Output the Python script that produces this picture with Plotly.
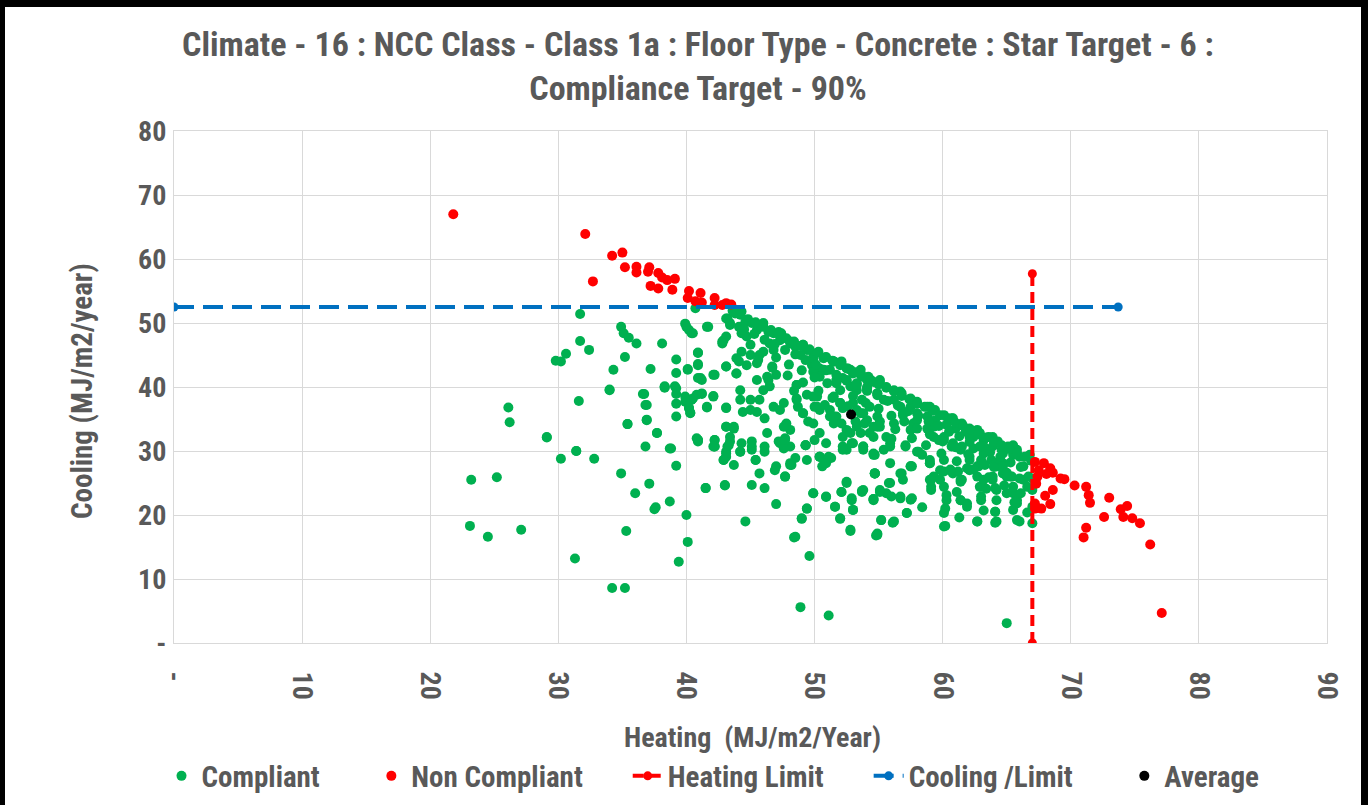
import plotly.graph_objects as go

# ---------------- data ----------------
# Compliant points (heating, cooling)
compliant_scatter_left = [
    (26.1, 36.8), (26.2, 34.5), (29.1, 32.1), (31.6, 37.8), (34.0, 39.5), (30.2, 28.8), (31.4, 30.0),
    (32.8, 28.8), (23.2, 25.5), (25.2, 25.9), (23.1, 18.3), (24.5, 16.6), (27.1, 17.7), (31.3, 13.2),
    (34.2, 8.6), (35.2, 8.6), (35.3, 17.5), (34.9, 26.5), (36.0, 23.4), (37.1, 24.9), (37.5, 20.9),
    (37.6, 21.2), (38.7, 22.1), (40.0, 20.0), (40.1, 15.8), (39.4, 12.7), (35.4, 34.2), (36.9, 34.8),
    (36.8, 37.2), (36.6, 38.9), (38.3, 40.0), (39.2, 39.8), (39.2, 38.9), (39.2, 37.4), (39.2, 35.4),
    (37.7, 32.8), (36.8, 30.7), (38.7, 30.4), (39.2, 27.7), (39.9, 37.7), (40.2, 36.7), (40.3, 35.9),
    (40.5, 38.2), (41.2, 38.9), (41.6, 36.8), (42.1, 38.6), (40.9, 31.7), (42.2, 31.7), (42.2, 30.7),
    (41.5, 24.2), (43.0, 24.6), (43.1, 33.8), (43.7, 33.5), (43.4, 31.5), (43.1, 29.9), (42.9, 28.6),
    (43.1, 36.8), (41.2, 41.1),
    (31.7, 51.4), (34.9, 49.4), (35.1, 48.4), (35.5, 47.7), (36.1, 46.8), (38.1, 46.8), (31.7, 47.2),
    (32.4, 45.8), (30.6, 45.2), (29.8, 44.1), (30.2, 44.0), (35.2, 44.7), (34.3, 42.7), (37.2, 42.8),
    (39.2, 44.3), (39.2, 42.2), (40.1, 42.8), (38.3, 39.9), (36.7, 38.9), (36.9, 37.2), (36.9, 34.9),
    (35.4, 34.2), (37.7, 32.8), (38.8, 30.4), (29.1, 32.2), (31.4, 30.0), (39.9, 49.9), (40.2, 48.9),
    (40.5, 48.4), (40.7, 52.3), (40.9, 45.4), (40.9, 43.6), (40.9, 41.4), (40.8, 38.8), (40.0, 38.0),
    (40.4, 38.0), (40.3, 36.0), (40.8, 32.0), (41.6, 49.4), (42.2, 41.9), (43.1, 43.2), (42.8, 47.1),
    (43.1, 47.9), (43.2, 50.7), (43.4, 49.7), (43.8, 51.8), (43.9, 42.1), (43.9, 44.5), (39.1, 40.1),
    (38.3, 40.1), (34.0, 39.6),
]
compliant_mid = [
    (40.0, 49.4), (40.4, 48.4), (41.7, 49.4), (43.1, 50.7), (43.4, 50.0), (43.8, 51.5), (44.3, 51.8),
    (44.1, 49.4), (44.6, 50.2), (45.1, 50.0), (45.5, 48.9), (46.0, 50.0), (46.4, 48.6), (44.3, 48.4),
    (44.7, 47.9), (42.9, 47.3), (42.8, 46.8), (46.8, 48.4), (47.2, 48.6), (47.3, 47.3), (46.5, 46.8),
    (46.8, 45.8), (48.1, 47.1), (48.5, 46.3), (49.1, 46.6), (49.4, 45.8), (49.9, 44.7), (50.3, 45.5),
    (50.9, 44.7), (51.5, 44.0), (52.1, 44.0), (49.8, 43.4), (50.4, 42.9), (51.2, 42.7), (52.5, 42.9),
    (53.0, 42.1), (53.6, 41.9), (54.1, 41.1), (54.6, 40.8), (52.2, 41.4), (51.7, 40.6), (52.8, 40.1),
    (53.3, 39.5), (54.1, 39.5), (54.9, 39.0), (53.7, 38.0), (53.0, 37.5), (52.0, 37.5), (51.5, 38.5),
    (52.2, 36.7), (51.7, 35.4), (53.6, 35.9), (54.1, 34.8), (54.6, 33.8), (53.3, 33.8), (52.5, 33.3),
    (51.5, 34.3), (51.2, 35.4), (52.2, 32.2), (53.0, 31.2), (53.8, 30.7), (54.6, 29.6), (52.5, 30.2),
    (50.4, 29.1), (50.9, 28.6), (50.9, 31.2), (50.4, 32.8), (49.9, 34.3), (49.5, 34.6), (49.1, 35.9),
    (48.7, 36.9), (48.6, 38.2), (49.4, 38.8), (50.2, 38.5), (50.0, 36.9), (50.4, 36.4), (48.6, 40.3),
    (47.6, 37.5), (47.3, 36.4), (46.8, 36.9), (47.8, 34.3), (48.1, 33.3), (47.7, 32.0), (47.3, 31.2),
    (48.1, 30.7), (49.3, 30.9), (48.5, 28.9), (48.1, 28.1), (47.0, 27.6), (46.3, 32.8), (46.1, 35.1),
    (45.5, 36.1), (45.0, 36.4), (44.4, 36.1), (46.5, 40.1), (46.0, 39.5), (45.7, 38.0), (45.0, 38.0),
    (44.2, 39.5), (44.2, 38.0), (45.5, 41.1), (46.4, 41.1), (47.0, 41.9), (46.7, 43.2), (45.5, 43.7),
    (44.7, 43.4), (43.9, 42.1), (44.1, 44.0), (44.3, 45.5), (45.0, 45.0), (45.7, 45.0), (43.1, 43.2),
    (42.1, 41.9), (41.1, 41.4), (40.1, 42.7), (40.9, 43.4), (40.9, 45.3), (39.9, 38.5), (40.4, 38.0),
    (40.2, 36.7), (41.2, 39.0), (42.1, 38.5), (41.6, 36.9), (43.1, 36.7), (40.9, 31.7), (42.2, 31.7),
    (42.2, 30.7), (43.1, 33.8), (43.7, 33.8), (43.4, 32.2), (43.2, 30.7), (43.1, 29.1), (44.3, 31.2),
    (44.2, 29.9), (45.1, 31.5), (45.1, 30.2), (46.1, 30.7), (45.4, 28.6), (43.7, 27.8), (49.4, 28.6),
    (50.6, 27.6),
]
compliant_low = [
    (40.9, 31.5), (42.1, 30.7), (43.3, 30.9), (43.1, 29.6), (42.9, 28.6), (44.2, 29.9), (45.1, 30.7),
    (45.4, 28.6), (46.1, 29.9), (45.7, 26.5), (46.9, 27.0), (47.7, 26.0), (48.2, 27.8), (47.2, 31.5),
    (47.6, 30.4), (49.3, 30.9), (50.0, 31.7), (41.5, 24.2), (43.0, 24.7), (45.1, 24.7), (46.1, 24.2),
    (47.0, 21.7), (44.6, 19.0), (48.4, 16.5), (49.6, 13.6), (49.0, 19.4), (49.4, 21.0), (49.9, 23.4),
    (48.9, 5.6), (51.1, 4.3), (50.4, 29.1), (50.9, 28.1), (51.3, 28.9), (52.2, 30.2), (52.5, 25.0),
    (52.1, 23.6), (50.9, 22.8), (51.6, 21.3), (52.9, 22.6), (53.0, 20.8), (52.0, 19.4), (52.8, 17.5),
    (53.7, 23.8), (54.7, 26.5), (54.6, 22.5), (54.9, 16.9),
]
compliant_band = [
    (47.4, 48.4), (48.1, 46.8), (49.1, 46.6), (49.6, 45.8), (48.9, 45.0), (49.9, 44.5), (50.7, 44.5),
    (51.5, 44.0), (52.1, 43.7), (52.8, 42.7), (53.6, 42.1), (54.2, 41.6), (49.9, 42.4), (50.7, 42.7),
    (50.4, 41.6), (51.7, 41.1), (52.5, 41.1), (53.3, 40.6), (54.1, 39.8), (55.1, 40.8), (55.6, 40.0),
    (56.2, 39.5), (56.8, 39.0), (57.5, 38.2), (58.0, 37.7), (58.8, 36.9), (59.4, 36.4), (60.1, 35.6),
    (60.7, 35.1), (61.5, 34.3), (62.1, 33.5), (62.9, 32.8), (63.6, 32.2), (64.3, 31.5), (65.1, 30.7),
    (65.8, 30.2), (54.9, 39.0), (55.4, 38.0), (56.2, 38.0), (56.7, 36.9), (57.5, 36.9), (58.0, 35.9),
    (58.8, 35.4), (59.4, 34.8), (60.3, 34.1), (61.0, 33.5), (61.8, 33.0), (62.4, 32.2), (63.2, 31.7),
    (63.9, 30.7), (64.6, 30.2), (65.5, 29.4), (56.9, 35.6), (57.7, 34.3), (58.8, 33.5), (59.3, 32.2),
    (60.1, 31.7), (60.8, 31.2), (61.5, 30.7), (62.4, 30.4), (63.2, 29.6), (63.8, 28.6), (64.7, 28.1),
    (48.6, 40.3), (48.6, 38.0), (49.1, 35.9), (50.2, 36.9), (49.9, 38.5), (51.2, 36.4), (51.5, 35.4),
    (52.0, 37.5), (52.1, 34.3), (53.3, 36.4), (53.9, 34.3), (54.9, 35.4), (55.1, 33.8), (54.3, 32.8),
    (55.6, 32.2), (53.6, 32.8), (52.8, 32.8), (52.2, 30.7), (52.9, 31.2), (53.8, 30.2), (54.6, 29.4),
    (55.4, 30.2), (55.9, 31.2), (57.1, 30.9), (58.0, 29.9), (57.5, 27.6), (56.8, 26.5), (54.7, 26.5),
    (55.9, 25.0), (55.6, 23.4), (55.1, 23.6), (54.6, 22.3), (57.6, 22.6), (56.7, 22.9), (57.2, 20.3),
    (55.2, 19.2), (56.2, 19.0), (54.9, 17.1), (52.5, 25.2), (52.1, 23.6), (52.9, 22.3), (53.7, 23.6),
    (53.0, 20.8), (52.0, 19.5), (52.8, 17.7), (49.9, 23.4), (50.9, 22.9), (51.6, 21.3), (50.4, 29.1),
    (51.1, 29.1), (50.8, 28.1), (49.3, 30.9), (48.1, 27.8), (47.7, 26.0), (49.4, 21.0), (49.0, 19.5),
    (48.5, 16.6), (47.6, 33.8), (47.7, 31.7),
    (59.0, 28.6), (59.8, 27.0), (59.3, 26.0), (60.1, 24.4), (60.3, 22.3), (60.1, 20.3), (60.1, 18.2),
    (59.1, 24.4), (60.8, 26.5), (61.5, 25.5), (61.1, 23.6), (61.9, 21.8), (61.4, 22.3), (62.1, 28.6),
    (62.8, 27.6), (62.9, 24.4), (63.0, 22.3), (62.7, 19.0), (64.2, 27.6), (63.9, 25.5), (64.2, 23.9),
    (64.1, 20.5), (64.2, 19.0), (65.3, 26.0), (65.5, 23.4), (65.8, 21.8), (65.8, 19.2),
]
compliant_right = [
    (67.0, 25.7), (67.0, 23.9), (67.0, 21.3), (67.0, 18.7), (66.3, 25.5), (65.8, 22.3), (65.5, 20.8),
    (66.0, 19.0), (65.0, 23.4), (64.2, 22.3), (64.1, 20.5), (64.1, 18.8), (62.7, 19.0), (63.0, 22.9),
    (64.1, 24.2), (65.0, 3.1), (60.2, 18.3), (60.2, 21.0), (60.3, 23.1), (61.4, 22.3), (61.9, 21.3),
    (59.1, 23.9), (59.1, 25.5), (57.2, 20.3), (56.1, 18.8), (55.2, 19.2), (54.8, 16.8), (54.6, 22.5),
    (55.1, 23.9), (56.0, 22.9), (56.7, 22.6), (57.5, 22.4), (54.7, 26.5), (55.8, 25.0), (56.7, 26.5),
    (57.5, 27.6), (59.0, 28.1), (60.1, 26.8), (59.8, 25.5), (61.2, 26.8), (61.4, 25.2), (61.9, 27.3),
    (62.7, 26.0), (63.0, 24.4), (63.3, 27.8), (64.2, 27.6), (63.9, 26.0), (64.7, 26.5), (65.4, 26.0),
    (65.5, 24.4), (53.8, 23.9),
    (53.6, 42.7), (55.1, 41.1), (56.7, 39.3), (59.0, 36.9), (60.8, 35.1), (62.7, 33.3), (63.9, 32.2),
    (65.5, 30.9), (66.8, 29.4), (54.1, 40.0), (54.3, 36.9), (54.9, 33.8), (54.6, 32.2), (53.8, 30.7),
    (54.7, 29.4), (54.7, 26.5), (55.9, 30.7), (56.2, 34.3), (56.9, 35.9), (57.5, 33.3), (58.0, 34.8),
    (57.1, 30.7), (58.1, 29.9), (57.6, 27.6), (59.0, 28.1), (59.7, 31.7), (60.1, 28.6), (60.7, 30.7),
    (61.4, 30.2), (62.1, 29.1), (62.1, 27.0), (62.7, 27.6), (64.2, 28.1), (65.0, 26.0), (64.7, 27.6),
    (63.2, 25.5), (61.4, 25.5), (60.6, 27.0), (59.0, 25.5), (56.9, 25.5), (55.9, 28.1), (59.3, 33.8),
    (60.1, 32.2), (62.1, 32.2), (63.2, 30.7), (64.7, 29.6), (66.0, 29.1), (66.3, 27.6), (66.7, 26.0),
    (66.6, 24.4),
]
compliant_edge = [
    (43.6, 51.9), (44.2, 51.3), (44.8, 50.6), (45.4, 50.1), (46.0, 49.4), (46.6, 48.9), (47.2, 48.3),
    (47.8, 47.6), (48.4, 47.1), (49.0, 46.4), (49.6, 45.9), (50.2, 45.3), (50.8, 44.6), (51.4, 44.1),
    (52.0, 43.4), (52.6, 42.9), (53.2, 42.3), (53.8, 41.6), (54.4, 41.1), (55.0, 40.4), (55.6, 39.9),
    (56.2, 39.3), (56.8, 38.6), (57.4, 38.1), (58.0, 37.4), (58.6, 36.9), (59.2, 36.3), (59.8, 35.6),
    (60.4, 35.1), (61.0, 34.4), (61.6, 33.9), (62.2, 33.3), (62.8, 32.6), (63.4, 32.1), (64.0, 31.4),
    (64.6, 30.9), (65.2, 30.3), (65.8, 29.6), (66.4, 29.1), (66.9, 28.5),
    (44.5, 49.0), (45.3, 48.3), (46.1, 47.4), (46.9, 46.7), (47.7, 45.8), (48.5, 45.1), (49.3, 44.2),
    (50.1, 43.5), (50.9, 42.6), (51.7, 41.9), (52.5, 41.0), (53.3, 40.3), (54.1, 39.4), (54.9, 38.7),
    (55.7, 37.8), (56.5, 37.1), (57.3, 36.2), (58.1, 35.5), (58.9, 34.6), (59.7, 33.9), (60.5, 33.0),
    (61.3, 32.3), (62.1, 31.4), (62.9, 30.7), (63.7, 29.8), (64.5, 29.1), (65.3, 28.2), (66.1, 27.5),
    (45.0, 46.6), (46.0, 45.5), (47.0, 44.6), (48.0, 43.5), (49.0, 42.6), (50.0, 41.5), (51.0, 40.6),
    (52.0, 39.5), (53.0, 38.6), (54.0, 37.5), (55.0, 36.6), (56.0, 35.5), (57.0, 34.6), (58.0, 33.5),
    (59.0, 32.6), (60.0, 31.5), (61.0, 30.6), (62.0, 29.5), (63.0, 28.6), (64.0, 27.5), (65.0, 26.6),
    (66.0, 25.7),
    (45.6, 44.2), (46.7, 43.0), (47.9, 41.8), (49.1, 40.7), (50.3, 39.4), (51.4, 38.3), (52.6, 37.0),
    (53.8, 35.9), (55.1, 34.6), (56.3, 33.4), (57.6, 32.0), (58.7, 30.9), (59.9, 29.6), (61.1, 28.4),
    (62.4, 27.1), (63.6, 25.9), (64.8, 24.6), (66.1, 23.4),
    (46.3, 41.6), (48.4, 39.4), (50.8, 37.2), (53.2, 34.6), (56.0, 31.9), (58.4, 29.4), (60.6, 27.1),
    (63.4, 24.1), (65.6, 22.0), (66.6, 20.4), (61.3, 19.6), (58.4, 21.2), (63.2, 20.7),
]

non_compliant = [
    (21.8, 67.0), (32.1, 63.9), (34.2, 60.5), (35.0, 61.0), (32.7, 56.5), (35.2, 58.7), (36.1, 58.8),
    (36.1, 57.9), (37.1, 58.7), (37.0, 58.0), (37.8, 57.8), (38.1, 57.1), (37.2, 55.8), (37.8, 55.4),
    (38.5, 56.7), (39.1, 56.9), (38.9, 55.2), (40.2, 55.0), (41.1, 54.7), (40.1, 53.9), (40.7, 53.4),
    (42.2, 53.9), (42.2, 52.8), (42.8, 52.8), (43.1, 53.1), (41.2, 53.2), (43.5, 52.9),
    (67.2, 28.3), (67.9, 28.1), (68.4, 27.3), (68.6, 26.6), (69.2, 25.7), (69.5, 25.6), (67.3, 24.9),
    (70.3, 24.6), (71.2, 24.4), (71.4, 23.1), (71.5, 21.9), (68.6, 23.9), (68.0, 23.0), (68.4, 21.7),
    (67.7, 21.0), (67.2, 21.0), (67.2, 21.8), (73.0, 22.7), (73.9, 20.9), (74.4, 21.4), (74.1, 19.7),
    (74.8, 19.5), (75.4, 18.7), (72.6, 19.7), (71.2, 18.0), (71.0, 16.5), (76.2, 15.4), (77.1, 4.7),
    (67.5, 27.0), (68.1, 26.4), (67.4, 26.0),
]

heating_limit_x = [67.0, 67.0]
heating_limit_y = [0.0, 57.7]
cooling_limit_x = [0.0, 73.7]
cooling_limit_y = [52.5, 52.5]
average_x = [52.85]
average_y = [35.7]

x_tickvals = [0, 10, 20, 30, 40, 50, 60, 70, 80, 90]
x_ticktext = ["-", "10", "20", "30", "40", "50", "60", "70", "80", "90"]
y_tickvals = [0, 10, 20, 30, 40, 50, 60, 70, 80]
y_ticktext = ["-", "10", "20", "30", "40", "50", "60", "70", "80"]

series_names = ["Compliant", "Non Compliant", "Heating Limit", "Cooling /Limit", "Average"]
title_lines = ["Climate - 16 : NCC Class - Class 1a : Floor Type - Concrete : Star Target - 6 :",
               "Compliance Target - 90%"]

# ---------------- figure ----------------
compliant = (compliant_scatter_left + compliant_mid + compliant_low + compliant_band
             + compliant_right + compliant_edge)

GREEN = "#00B050"
RED = "#FF0000"
BLUE = "#0070C0"
GRAY = "#595959"
FONT = "Liberation Sans Narrow, Roboto Condensed, Open Sans, sans-serif"

def lbl(s, pad):
    return "<b>" + s + "</b>" + "&nbsp;" * pad

fig = go.Figure()
fig.add_trace(go.Scatter(
    x=[p[0] for p in compliant], y=[p[1] for p in compliant], mode="markers",
    name=lbl(series_names[0], 7), marker=dict(color=GREEN, size=10, line=dict(width=0))))
fig.add_trace(go.Scatter(
    x=[p[0] for p in non_compliant], y=[p[1] for p in non_compliant], mode="markers",
    name=lbl(series_names[1], 6), marker=dict(color=RED, size=10, line=dict(width=0))))
fig.add_trace(go.Scatter(
    x=heating_limit_x, y=heating_limit_y, mode="lines+markers", name=lbl(series_names[2], 6),
    line=dict(color=RED, width=4, dash="11px,6px"), marker=dict(color=RED, size=9)))
fig.add_trace(go.Scatter(
    x=cooling_limit_x, y=cooling_limit_y, mode="lines+markers", name=lbl(series_names[3], 7),
    line=dict(color=BLUE, width=4, dash="20px,9px"), marker=dict(color=BLUE, size=9)))
fig.add_trace(go.Scatter(
    x=average_x, y=average_y, mode="markers", name=lbl(series_names[4], 0),
    marker=dict(color="black", size=10, line=dict(width=0))))

# plot area in page pixels
L, R, T, B = 174, 1327, 131, 643
W, H = R - L, B - T
def px_x(p):
    return (p - L) / W
def px_y(p):
    return (B - p) / H
frame_shapes = [
    dict(type="rect", xref="paper", yref="paper", x0=px_x(0), x1=px_x(5), y0=px_y(805), y1=px_y(0),
         fillcolor="black", line=dict(width=0), layer="above"),
    dict(type="rect", xref="paper", yref="paper", x0=px_x(0), x1=px_x(1368), y0=px_y(7), y1=px_y(0),
         fillcolor="black", line=dict(width=0), layer="above"),
    dict(type="rect", xref="paper", yref="paper", x0=px_x(1361), x1=px_x(1368), y0=px_y(805), y1=px_y(0),
         fillcolor="black", line=dict(width=0), layer="above"),
]

fig.update_layout(
    width=1368, height=805,
    margin=dict(l=L, r=1368 - R, t=T, b=805 - B, autoexpand=False),
    paper_bgcolor="white", plot_bgcolor="white",
    font=dict(family=FONT, color=GRAY),
    title=dict(text="<b>" + title_lines[0] + "</b><br><b>" + title_lines[1] + "</b>",
               x=698 / 1368, xanchor="center", y=1 - 56 / 805, yanchor="middle",
               font=dict(size=34, color=GRAY, family=FONT)),
    showlegend=True,
    legend=dict(orientation="h", x=px_x(713), xanchor="center", y=px_y(776), yanchor="middle",
                font=dict(size=29, color=GRAY, family=FONT), itemwidth=30,
                bgcolor="rgba(0,0,0,0)"),
    shapes=frame_shapes,
    annotations=[
        dict(text="<b>Heating  (MJ/m2/Year)</b>", xref="paper", yref="paper", x=px_x(752), y=px_y(737),
             xanchor="center", yanchor="middle", showarrow=False, font=dict(size=28, color=GRAY, family=FONT)),
        dict(text="<b>Cooling (MJ/m2/year)</b>", xref="paper", yref="paper", x=px_x(82), y=px_y(391),
             xanchor="center", yanchor="middle", textangle=-90, showarrow=False,
             font=dict(size=29, color=GRAY, family=FONT)),
    ],
)
fig.update_xaxes(range=[0, 90], tickvals=x_tickvals, ticktext=["<b>%s</b>" % t for t in x_ticktext],
                 tickangle=90, tickfont=dict(size=28, color=GRAY, family=FONT),
                 showgrid=True, gridcolor="#D9D9D9", gridwidth=1, zeroline=False,
                 showline=True, linecolor="#D9D9D9", mirror=True, ticks="", ticklabelstandoff=22)
fig.update_yaxes(range=[0, 80], tickvals=y_tickvals, ticktext=["<b>%s</b>" % t for t in y_ticktext],
                 tickfont=dict(size=28, color=GRAY, family=FONT),
                 showgrid=True, gridcolor="#D9D9D9", gridwidth=1, zeroline=False,
                 showline=True, linecolor="#D9D9D9", mirror=True, ticks="", ticklabelstandoff=1)

fig.write_html("out.html", config={"displayModeBar": False},
               post_script="document.body.style.margin='0';document.body.style.overflow='hidden';")
